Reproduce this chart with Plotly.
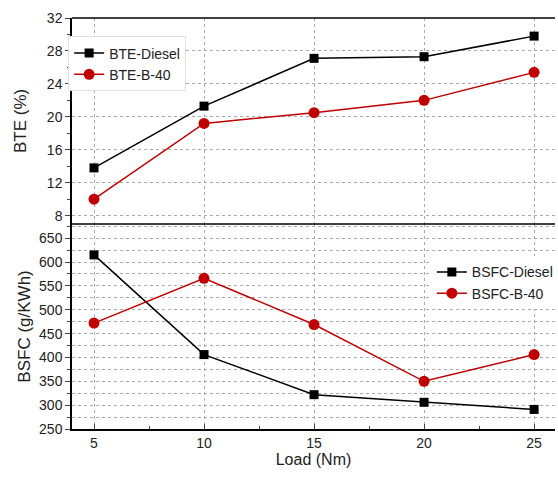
import plotly.graph_objects as go

load = [5, 10, 15, 20, 25]
bte_diesel = [13.8, 21.3, 27.1, 27.3, 29.8]
bte_b40 = [10.0, 19.2, 20.5, 22.0, 25.4]
bsfc_diesel = [615, 406, 322, 306, 291]
bsfc_b40 = [472, 566, 469, 350, 406]

RED = "#c00000"
FONT = "Arial"

fig = go.Figure()
fig.add_trace(go.Scatter(x=load, y=bte_diesel, name="BTE-Diesel", yaxis="y2",
                         mode="lines+markers", line=dict(color="black", width=1.5),
                         marker=dict(symbol="square", size=9, color="black"), legend="legend"))
fig.add_trace(go.Scatter(x=load, y=bte_b40, name="BTE-B-40", yaxis="y2",
                         mode="lines+markers", line=dict(color=RED, width=1.5),
                         marker=dict(symbol="circle", size=11, color=RED), legend="legend"))
fig.add_trace(go.Scatter(x=load, y=bsfc_diesel, name="BSFC-Diesel", yaxis="y",
                         mode="lines+markers", line=dict(color="black", width=1.5),
                         marker=dict(symbol="square", size=9, color="black"), legend="legend2"))
fig.add_trace(go.Scatter(x=load, y=bsfc_b40, name="BSFC-B-40", yaxis="y",
                         mode="lines+markers", line=dict(color=RED, width=1.5),
                         marker=dict(symbol="circle", size=11, color=RED), legend="legend2"))

split = 0.499
grid = dict(showgrid=True, gridcolor="#aaaaaa", griddash="dot", gridwidth=1)

fig.update_layout(
    width=558, height=477,
    margin=dict(l=72, r=0, t=18, b=48),
    plot_bgcolor="white", paper_bgcolor="white",
    font=dict(family=FONT, size=14, color="#222"),
    xaxis=dict(range=[4, 25.95], tickvals=load, ticks="inside", ticklen=5,
               minor=dict(tickvals=[7.5, 12.5, 17.5, 22.5], ticks="inside", ticklen=3),
               showline=True, linecolor="black", linewidth=1.5, automargin=False,
               title=dict(text="Load (Nm)", font=dict(size=16), standoff=0),
               zeroline=False, anchor="y", **grid),
    yaxis=dict(domain=[0, split], range=[250, 680], tickvals=[250, 300, 350, 400, 450, 500, 550, 600, 650],
               ticks="outside", ticklen=5, showline=True, linecolor="black", linewidth=1.5,
               automargin=False,
               minor=dict(dtick=25, tick0=0, ticks="outside", ticklen=3, showgrid=True,
                          gridcolor="#aaaaaa", griddash="dot"),
               title=dict(text="BSFC (g/KWh)", font=dict(size=17), standoff=4),
               zeroline=False, **grid),
    yaxis2=dict(domain=[split, 1], range=[7, 32], tickvals=[8, 12, 16, 20, 24, 28, 32],
                ticks="outside", ticklen=5, showline=True, linecolor="black", linewidth=1.5,
                automargin=False,
                minor=dict(dtick=2, tick0=0, ticks="outside", ticklen=3),
                title=dict(text="BTE (%)", font=dict(size=17), standoff=16),
                zeroline=False, anchor="x", **grid),
    legend=dict(x=-0.008, y=0.955, xanchor="left", yanchor="top", bgcolor="white",
                bordercolor="#e0e0e0", borderwidth=1, font=dict(size=14),
                tracegroupgap=0, itemwidth=30),
    legend2=dict(x=0.745, y=0.42, xanchor="left", yanchor="top", bgcolor="white",
                 borderwidth=0, font=dict(size=14), tracegroupgap=0, itemwidth=30),
    showlegend=True,
    shapes=[
        dict(type="line", xref="paper", yref="paper", x0=0, x1=1, y0=split, y1=split,
             line=dict(color="black", width=1.5)),
        dict(type="line", xref="paper", yref="paper", x0=0, x1=1, y0=1, y1=1,
             line=dict(color="black", width=1.5)),
        dict(type="line", xref="paper", yref="paper", x0=0.757, x1=0.757, y0=0.315, y1=0.42,
             line=dict(color="black", width=1)),
    ],
)

fig.write_html("out.html", config={"displayModeBar": False},
               post_script="document.body.style.margin='0';document.body.style.overflow='hidden';")
